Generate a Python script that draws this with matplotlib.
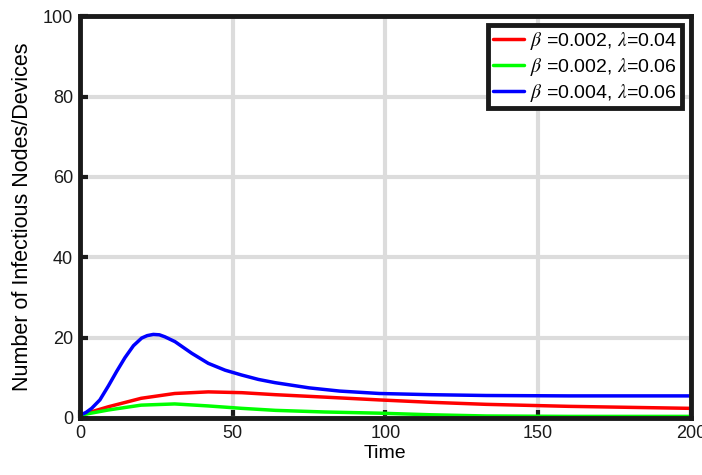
import numpy as np
import matplotlib.pyplot as plt

plt.rcParams['font.family'] = ['Liberation Sans', 'DejaVu Sans']
plt.rcParams['mathtext.fontset'] = 'stix'

# values
t_blue = [0, 2, 3.8, 6.5, 9.3, 12, 14.7, 17.5, 20.2, 22, 24, 26, 27.8, 31.1, 36.6, 42, 47.5,
          52.9, 58.4, 63.8, 75, 85, 98, 115, 133, 160, 200]
y_blue = [0.7, 1.4, 2.4, 4.5, 8.0, 11.6, 15.0, 18.0, 19.9, 20.5, 20.8, 20.7, 20.2, 19.0, 16.1,
          13.6, 11.9, 10.7, 9.6, 8.8, 7.5, 6.7, 6.1, 5.8, 5.6, 5.5, 5.5]

t_red = [0, 9.3, 20, 31, 42, 53, 64, 80, 98, 115, 133, 160, 200]
y_red = [0.7, 2.8, 4.9, 6.1, 6.5, 6.3, 5.8, 5.2, 4.5, 3.9, 3.4, 2.9, 2.4]

t_green = [0, 9.3, 20, 31, 42, 53, 64, 80, 98, 115, 133, 160, 200]
y_green = [0.7, 2.0, 3.2, 3.5, 3.0, 2.4, 1.9, 1.5, 1.2, 0.8, 0.5, 0.4, 0.4]

labels = [r'$\beta$ =0.002, $\lambda$=0.04',
          r'$\beta$ =0.002, $\lambda$=0.06',
          r'$\beta$ =0.004, $\lambda$=0.06']

fig = plt.figure(figsize=(7.02, 4.75), dpi=100)
ax = fig.add_axes([0.114, 0.12, 0.870, 0.846])

kw = dict(lw=2.5, solid_joinstyle='round', solid_capstyle='round')
ax.plot(t_red, y_red, color='#ff0000', label=labels[0], **kw)
ax.plot(t_green, y_green, color='#00ff00', label=labels[1], **kw)
ax.plot(t_blue, y_blue, color='#0000ff', label=labels[2], **kw)

ax.set_xlim(0, 200)
ax.set_ylim(0, 100)
ax.set_xticks([0, 50, 100, 150, 200])
ax.set_yticks([0, 20, 40, 60, 80, 100])
ax.grid(True, color='#dcdcdc', lw=3)
ax.set_axisbelow(True)
for s in ax.spines.values():
    s.set_linewidth(3.5)
    s.set_color('#1a1a1a')
ax.tick_params(direction='in', length=6, width=3, labelsize=13, colors='#1a1a1a', pad=5)
ax.set_xlabel('Time', fontsize=14, labelpad=2)
ax.set_ylabel('Number of Infectious Nodes/Devices', fontsize=15.5, labelpad=7)

leg = ax.legend(loc='upper right', fontsize=14, fancybox=False, framealpha=1,
                edgecolor='#1a1a1a', handlelength=1.6, handletextpad=0.3,
                borderaxespad=0.45, labelspacing=0.2, borderpad=0.25)
leg.get_frame().set_linewidth(3.5)

fig.savefig('out.png', dpi=100)
